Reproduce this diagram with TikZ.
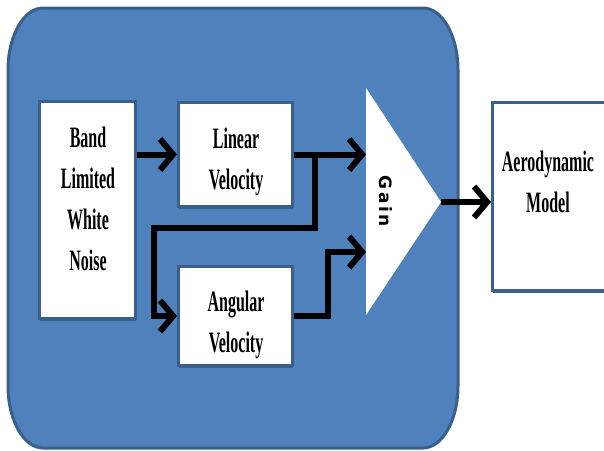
\documentclass[tikz,border=0pt]{standalone}
\usepackage{fontspec}
\setmainfont{Liberation Serif}
\newfontfamily\gainfont{DejaVu Sans}
\usetikzlibrary{arrows.meta,shadows}
\definecolor{panel}{HTML}{4F81BD}
\definecolor{rim}{HTML}{3A5F8C}
\newcommand{\tall}[1]{\scalebox{1}[1.85]{#1}}

\begin{document}
\begin{tikzpicture}[x=1pt,y=-1pt]
  \tikzstyle{block}=[rectangle,draw=rim,line width=3pt,fill=white,inner sep=0pt,drop shadow={shadow xshift=0.5pt,shadow yshift=-2pt,fill=rim,opacity=1}]
  \tikzstyle{blocktext}=[align=center,font=\bfseries\fontsize{16}{41}\selectfont,inner sep=0pt]
  \tikzstyle{flow}=[line width=6pt,-{Straight Barb[length=13pt,width=31pt]}]
  \useasboundingbox (0,0) rectangle (604,450);
  \clip (0,0) rectangle (604,450);

  % outer panel
  \draw[fill=panel,draw=rim,line width=3pt] (43,8) -- (423,8) .. controls (442.3,8) and (458,35.8) .. (458,70) -- (458,386) .. controls (458,420.2) and (442.3,448) .. (423,448) -- (43,448) .. controls (23.7,448) and (8,420.2) .. (8,386) -- (8,70) .. controls (8,35.8) and (23.7,8) .. (43,8) -- cycle;

  % gain
  \fill[white] (366,88) -- (441,202) -- (366,315) -- cycle;
  \coordinate (g-in1) at (366,155);
  \coordinate (g-in2) at (366,252);
  \coordinate (g-out) at (441,202);
  \coordinate (fork) at (315,155);
  \node[rotate=-90,font=\gainfont\bfseries\fontsize{17}{17}\selectfont] (gain) at (386,201) {G\hspace{2.5pt}a\hspace{2.5pt}i\hspace{2.5pt}n};

  \foreach \name/\x/\y/\w/\h in {band/87.5/210/96/217, lin/235.5/154.5/114/104, ang/235.5/316/114/99, aero/555/196.5/125/188}
    \node[block,minimum width=\w pt,minimum height=\h pt] (\name) at (\x,\y) {};
  \foreach \name/\x/\y/\text in {band/88/199/{\tall{Band}\\\tall{Limited}\\\tall{White}\\\tall{Noise}}, lin/236/162/{\tall{Linear}\\\tall{Velocity}}, ang/236/325/{\tall{Angular}\\\tall{Velocity}}, aero/548/182/{\tall{Aerodynamic}\\\tall{Model}}}
    \node[blocktext] (\name-t) at (\x,\y) {\text};

  \draw[flow] (band.east |- lin.west) -- (lin.west);
  \draw[flow] (lin.east) -- (lin.east -| g-in1);
  \draw[flow] (lin.east -| fork) -- ++(0,73) -| ([xshift=-23pt]ang.west) -- (ang.west);
  \draw[flow] (ang.east) -- ++(34,0) |- (g-in2);
  \draw[flow] (g-out) -- (g-out -| aero.west);
\end{tikzpicture}
\end{document}
